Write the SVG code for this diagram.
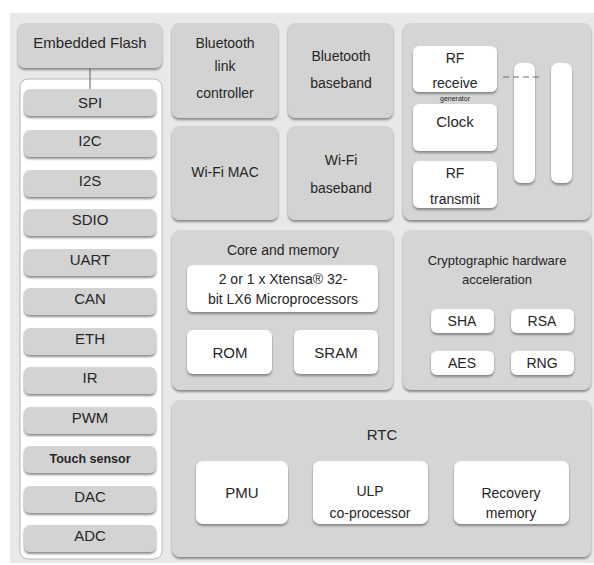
<svg xmlns="http://www.w3.org/2000/svg" width="594" height="565" viewBox="0 0 594 565">
<defs>
<filter id="sh" x="-10%" y="-10%" width="120%" height="130%">
<feDropShadow dx="0" dy="2" stdDeviation="0.8" flood-color="#707070" flood-opacity="0.8"/>
</filter>
<style>
.g{fill:#d3d3d3;filter:url(#sh)}
.w{fill:#ffffff;filter:url(#sh)}
.p{fill:#d5d5d5;filter:url(#sh)}
text{font-family:"Liberation Sans",Arial,sans-serif;fill:#262626;text-anchor:middle}
.t15{font-size:15px}
.t14{font-size:14px}
.t13{font-size:13px}
.t12{font-size:12.5px}
.sm{font-size:7px}
.bar{fill:#ffffff;filter:url(#sh)}
</style>
</defs>
<rect x="0" y="0" width="594" height="565" fill="#ffffff"/>
<rect x="10" y="13" width="584" height="550" fill="#e8e8e8"/>

<g id="embedded-flash">
<rect class="g" x="18" y="23" width="144" height="45" rx="7"/>
<text class="t15" x="90" y="48">Embedded Flash</text>
</g>

<g id="peripherals">
<rect x="20" y="79" width="142" height="480" rx="8" fill="#ffffff" stroke="#b8b8b8" stroke-width="1"/>
</g>
<g id="spi"><rect class="g" x="24" y="89" width="132" height="27" rx="6"/><text class="t15" x="90" y="108">SPI</text></g>
<g id="i2c"><rect class="g" x="24" y="130" width="132" height="27" rx="6"/><text class="t15" x="90" y="146">I2C</text></g>
<g id="i2s"><rect class="g" x="24" y="170" width="132" height="27" rx="6"/><text class="t15" x="90" y="186">I2S</text></g>
<g id="sdio"><rect class="g" x="24" y="209" width="132" height="27" rx="6"/><text class="t15" x="90" y="225">SDIO</text></g>
<g id="uart"><rect class="g" x="24" y="249" width="132" height="27" rx="6"/><text class="t15" x="90" y="265">UART</text></g>
<g id="can"><rect class="g" x="24" y="288" width="132" height="27" rx="6"/><text class="t15" x="90" y="304">CAN</text></g>
<g id="eth"><rect class="g" x="24" y="328" width="132" height="27" rx="6"/><text class="t15" x="90" y="344">ETH</text></g>
<g id="ir"><rect class="g" x="24" y="367" width="132" height="27" rx="6"/><text class="t15" x="90" y="383">IR</text></g>
<g id="pwm"><rect class="g" x="24" y="407" width="132" height="27" rx="6"/><text class="t15" x="90" y="423">PWM</text></g>
<g id="touch"><rect class="g" x="24" y="446" width="132" height="27" rx="6"/><text class="t12" x="90" y="463" font-weight="bold">Touch sensor</text></g>
<g id="dac"><rect class="g" x="24" y="486" width="132" height="27" rx="6"/><text class="t15" x="90" y="502">DAC</text></g>
<g id="adc"><rect class="g" x="24" y="525" width="132" height="27" rx="6"/><text class="t15" x="90" y="541">ADC</text></g>

<g id="bt-link">
<rect class="g" x="172" y="23" width="106" height="95" rx="7"/>
<text class="t14" x="225" y="48">Bluetooth</text>
<text class="t14" x="225" y="71">link</text>
<text class="t14" x="225" y="98">controller</text>
</g>
<g id="wifi-mac">
<rect class="g" x="172" y="126" width="106" height="94" rx="7"/>
<text class="t14" x="225" y="177">Wi-Fi MAC</text>
</g>
<g id="bt-baseband">
<rect class="g" x="288" y="23" width="105" height="95" rx="7"/>
<text class="t14" x="341" y="61">Bluetooth</text>
<text class="t14" x="341" y="88">baseband</text>
</g>
<g id="wifi-baseband">
<rect class="g" x="288" y="126" width="105" height="94" rx="7"/>
<text class="t14" x="341" y="165">Wi-Fi</text>
<text class="t14" x="341" y="193">baseband</text>
</g>

<g id="rf">
<rect class="p" x="403" y="23" width="188" height="197" rx="8"/>
<rect class="bar" x="514" y="63" width="21" height="120" rx="7"/>
<rect class="bar" x="551" y="63" width="21" height="120" rx="7"/>
</g>
<g id="rf-receive">
<rect class="w" x="413" y="46" width="84" height="46" rx="6"/>
<text class="t14" x="455" y="63">RF</text>
<text class="t14" x="455" y="88">receive</text>
<text class="sm" x="455" y="101">generator</text>
</g>
<g id="clock">
<rect class="w" x="413" y="104" width="84" height="47" rx="6"/>
<text class="t15" x="455" y="127">Clock</text>
</g>
<g id="rf-transmit">
<rect class="w" x="413" y="161" width="84" height="47" rx="6"/>
<text class="t14" x="455" y="178">RF</text>
<text class="t14" x="455" y="204">transmit</text>
</g>

<g id="core">
<rect class="p" x="172" y="230" width="221" height="160" rx="8"/>
<text class="t14" x="283" y="255">Core and memory</text>
</g>
<g id="cpu">
<rect class="w" x="187" y="265" width="191" height="47" rx="6"/>
<text class="t14" x="283" y="284">2 or 1 x Xtensa® 32-</text>
<text class="t14" x="283" y="304">bit LX6 Microprocessors</text>
</g>
<g id="rom"><rect class="w" x="187" y="330" width="85" height="44" rx="6"/><text class="t15" x="230" y="358">ROM</text></g>
<g id="sram"><rect class="w" x="294" y="330" width="84" height="44" rx="6"/><text class="t15" x="336" y="358">SRAM</text></g>

<g id="crypto">
<rect class="p" x="403" y="230" width="188" height="160" rx="8"/>
<text class="t13" x="497" y="265">Cryptographic hardware</text>
<text class="t13" x="497" y="284">acceleration</text>
</g>
<g id="sha"><rect class="w" x="431" y="309" width="63" height="24" rx="6"/><text class="t14" x="462" y="326">SHA</text></g>
<g id="rsa"><rect class="w" x="511" y="309" width="63" height="24" rx="6"/><text class="t14" x="542" y="326">RSA</text></g>
<g id="aes"><rect class="w" x="431" y="351" width="63" height="24" rx="6"/><text class="t14" x="462" y="368">AES</text></g>
<g id="rng"><rect class="w" x="511" y="351" width="63" height="24" rx="6"/><text class="t14" x="542" y="368">RNG</text></g>

<g id="rtc">
<rect class="p" x="172" y="400" width="419" height="157" rx="8"/>
<text class="t15" x="382" y="440">RTC</text>
</g>
<g id="pmu"><rect class="w" x="196" y="461" width="92" height="63" rx="7"/><text class="t15" x="242" y="498">PMU</text></g>
<g id="ulp">
<rect class="w" x="313" y="461" width="115" height="63" rx="7"/>
<text class="t14" x="370" y="496">ULP</text>
<text class="t14" x="370" y="518">co-processor</text>
</g>
<g id="recovery">
<rect class="w" x="454" y="461" width="115" height="63" rx="7"/>
<text class="t14" x="511" y="498">Recovery</text>
<text class="t14" x="511" y="518">memory</text>
</g>

<g id="connectors">
<line x1="90" y1="68" x2="90" y2="89" stroke="#777" stroke-width="1.2"/>
<line x1="503" y1="77" x2="541" y2="77" stroke="#666" stroke-width="1" stroke-dasharray="6,4"/>
</g>
</svg>
